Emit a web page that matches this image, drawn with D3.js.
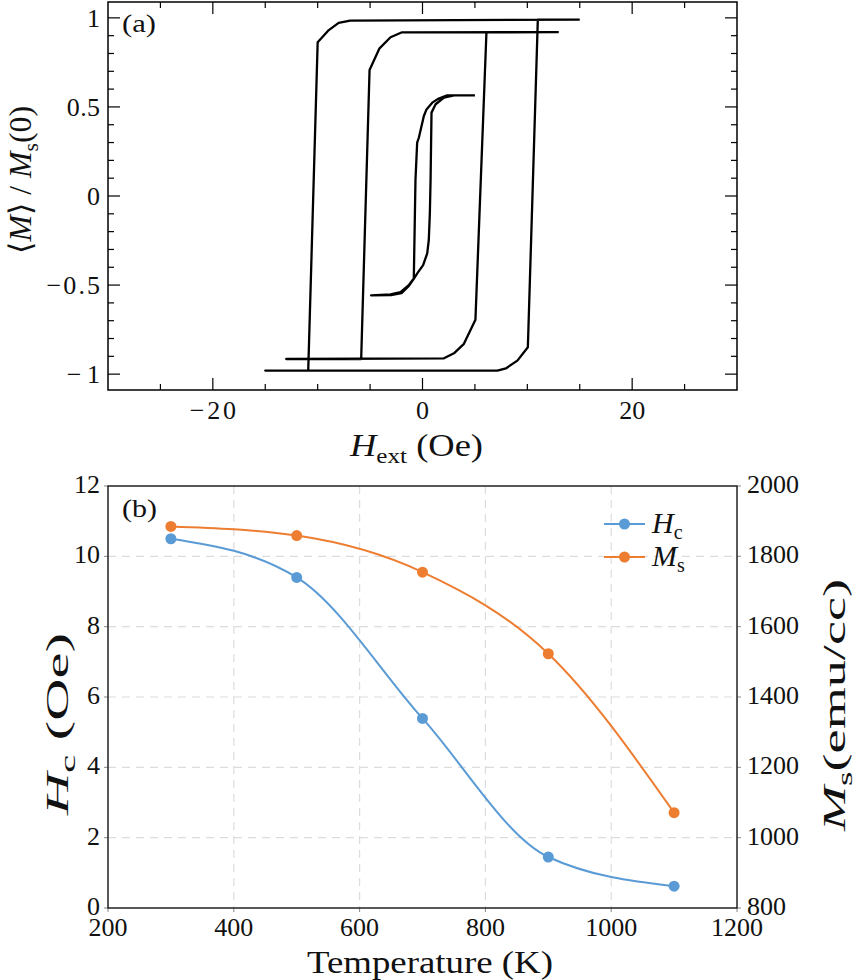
<!DOCTYPE html>
<html>
<head>
<meta charset="utf-8">
<script src="https://cdn.jsdelivr.net/npm/d3@7/dist/d3.min.js"></script>
<style>
  html, body { margin: 0; padding: 0; background: #fff; }
  svg text { font-family: "Liberation Serif", "DejaVu Serif", serif; fill: #111; }
</style>
</head>
<body>
<svg id="chart" width="859" height="980"></svg>
<script>
// ---------- Panel (a): hysteresis loops ----------
const outerH = [15, -6.9, -8.0, -9.0, -10.0, -10.9, -15, 7.15, 7.95, 9.05, 10.05, 11.0, 15];
const outerM = [0.99, 0.985, 0.972, 0.928, 0.863, -0.98, -0.98, -0.98, -0.968, -0.924, -0.849, 0.99, 0.99];
const innerH = [13, -1.95, -3.05, -4.1, -5.05, -5.85, -13, 2.05, 3.0, 3.95, 5.05, 6.1, 13];
const innerM = [0.92, 0.919, 0.891, 0.829, 0.707, -0.915, -0.915, -0.911, -0.883, -0.830, -0.695, 0.919, 0.92];
const smallH = [5.0, 2.35, 1.55, 0.93, 0.38, 0.13, -0.35, -0.51, -0.67, -0.83, -1.31, -2.1, -3.05, -4.9,
                -3.0, -2.0, -1.3, -0.83, -0.45, 0.06, 0.45, 0.6, 0.7, 0.77, 0.86, 1.25, 2.05, 3.0, 5.0];
const smallM = [0.565, 0.565, 0.547, 0.524, 0.486, 0.449, 0.327, 0.299, 0.09, -0.463, -0.501, -0.539, -0.552, -0.558,
                -0.556, -0.545, -0.505, -0.465, -0.43, -0.388, -0.322, -0.247, -0.1, 0.09, 0.468, 0.515, 0.552, 0.565, 0.565];
const hTicksMajor = [-20, 0, 20];
const mTicksMajor = [-1, -0.5, 0, 0.5, 1];
const mTickLabels = ["\u22121", "\u22120.5", "0", "0.5", "1"];
const hTickLabels = ["\u221220", "0", "20"];

// ---------- Panel (b): Hc and Ms vs temperature ----------
const temps = [300, 500, 700, 900, 1100];
const hcVals = [10.5, 9.4, 5.39, 1.45, 0.62];
const msVals = [1885, 1859, 1755, 1523, 1071];
const tTicks = [200, 400, 600, 800, 1000, 1200];
const hcTicks = [0, 2, 4, 6, 8, 10, 12];
const msTicks = [800, 1000, 1200, 1400, 1600, 1800, 2000];

const svg = d3.select("#chart");
const FS = 26;   // tick labels
const LFS = 32;  // axis labels
const SFS = 22;  // subscripts

function cmWidth(s, fs) {
  let w = 0;
  for (const ch of s) w += ch === "\u2212" ? 0.778 : ch === "." ? 0.278 : 0.5;
  return w * fs;
}
function tickText(g, x, y, s, anchor) {
  return g.append("text").attr("x", x).attr("y", y).attr("text-anchor", anchor)
    .attr("font-size", FS).attr("textLength", cmWidth(s, FS)).attr("lengthAdjust", "spacing").text(s);
}

// ===== Panel (a) =====
const L = 108, R = 737;
const xA = d3.scaleLinear().domain([-30, 30]).range([L, R]);
const yA = d3.scaleLinear().domain([-1.089, 1.089]).range([390, 2]);
const gA = svg.append("g");

const hMinor = d3.range(-25, 26, 5);
const mMinor = d3.range(-10, 11, 1).map(d => d / 10);
hMinor.forEach(v => {
  const major = hTicksMajor.includes(v);
  const len = major ? 12 : 6;
  gA.append("line").attr("x1", xA(v)).attr("x2", xA(v)).attr("y1", yA.range()[0]).attr("y2", yA.range()[0] - len)
    .attr("stroke", "#000").attr("stroke-width", 1.2);
  gA.append("line").attr("x1", xA(v)).attr("x2", xA(v)).attr("y1", yA.range()[1]).attr("y2", yA.range()[1] + len)
    .attr("stroke", "#000").attr("stroke-width", 1.2);
});
mMinor.forEach(v => {
  const major = mTicksMajor.some(m => Math.abs(m - v) < 1e-9);
  const len = major ? 12 : 6;
  gA.append("line").attr("x1", L).attr("x2", L + len).attr("y1", yA(v)).attr("y2", yA(v))
    .attr("stroke", "#000").attr("stroke-width", 1.2);
  gA.append("line").attr("x1", R).attr("x2", R - len).attr("y1", yA(v)).attr("y2", yA(v))
    .attr("stroke", "#000").attr("stroke-width", 1.2);
});

const lineA = d3.line().x(d => xA(d[0])).y(d => yA(d[1]));
[[outerH, outerM], [innerH, innerM], [smallH, smallM]].forEach(([hs, ms]) => {
  gA.append("path").datum(hs.map((h, i) => [h, ms[i]]))
    .attr("d", lineA).attr("fill", "none").attr("stroke", "#000")
    .attr("stroke-width", 2.3).attr("stroke-linejoin", "round").attr("stroke-linecap", "butt");
});

gA.append("rect").attr("x", L).attr("y", 2).attr("width", R - L).attr("height", 388)
  .attr("fill", "none").attr("stroke", "#000").attr("stroke-width", 1.5);

hTicksMajor.forEach((v, i) => tickText(gA, xA(v), 419, hTickLabels[i], "middle"));
mTicksMajor.forEach((v, i) => tickText(gA, 100, yA(v) + 9, mTickLabels[i], "end"));
gA.append("text").attr("x", 122).attr("y", 32).attr("font-size", FS)
  .attr("textLength", 34).attr("lengthAdjust", "spacingAndGlyphs").text("(a)");

const xlabA = gA.append("text").attr("x", 350).attr("y", 456).attr("font-size", LFS)
  .attr("textLength", 133).attr("lengthAdjust", "spacingAndGlyphs");
xlabA.append("tspan").attr("font-style", "italic").text("H");
xlabA.append("tspan").attr("font-size", SFS).attr("dy", 7).text("ext");
xlabA.append("tspan").attr("dy", -7).text(" (Oe)");

const ylabA = gA.append("text").attr("transform", "translate(31,254) rotate(-90)")
  .attr("font-size", 31).attr("textLength", 148).attr("lengthAdjust", "spacingAndGlyphs");
ylabA.append("tspan").text("\u27E8");
ylabA.append("tspan").attr("font-style", "italic").text("M");
ylabA.append("tspan").text("\u27E9 / ");
ylabA.append("tspan").attr("font-style", "italic").text("M");
ylabA.append("tspan").attr("font-size", 21).attr("dy", 7).text("s");
ylabA.append("tspan").attr("dy", -7).text("(0)");

// ===== Panel (b) =====
const T0 = 486, B0 = 908;
const xB = d3.scaleLinear().domain([200, 1200]).range([L, R]);
const yL = d3.scaleLinear().domain([0, 12]).range([B0, T0]);
const yR = d3.scaleLinear().domain([800, 2000]).range([B0, T0]);
const gB = svg.append("g");

tTicks.slice(1, -1).forEach(v => {
  gB.append("line").attr("x1", xB(v)).attr("x2", xB(v)).attr("y1", T0).attr("y2", B0)
    .attr("stroke", "#dcdcdc").attr("stroke-width", 1.2).attr("stroke-dasharray", "8,6");
});
hcTicks.slice(1, -1).forEach(v => {
  gB.append("line").attr("x1", L).attr("x2", R).attr("y1", yL(v)).attr("y2", yL(v))
    .attr("stroke", "#dcdcdc").attr("stroke-width", 1.2).attr("stroke-dasharray", "8,6");
});

tTicks.forEach(v => gB.append("line").attr("x1", xB(v)).attr("x2", xB(v)).attr("y1", B0).attr("y2", B0 + 4)
  .attr("stroke", "#888").attr("stroke-width", 1));
hcTicks.forEach(v => gB.append("line").attr("x1", L).attr("x2", L - 4).attr("y1", yL(v)).attr("y2", yL(v))
  .attr("stroke", "#888").attr("stroke-width", 1));
msTicks.forEach(v => gB.append("line").attr("x1", R).attr("x2", R + 4).attr("y1", yR(v)).attr("y2", yR(v))
  .attr("stroke", "#888").attr("stroke-width", 1));

const blue = "#5b9bd5", orange = "#ed7d31";
const lineHc = d3.line().x((d, i) => xB(temps[i])).y(d => yL(d)).curve(d3.curveMonotoneX);
const lineMs = d3.line().x((d, i) => xB(temps[i])).y(d => yR(d)).curve(d3.curveMonotoneX);
gB.append("path").datum(hcVals).attr("d", lineHc).attr("fill", "none").attr("stroke", blue).attr("stroke-width", 2);
gB.append("path").datum(msVals).attr("d", lineMs).attr("fill", "none").attr("stroke", orange).attr("stroke-width", 2);
gB.selectAll(".hc").data(hcVals).enter().append("circle")
  .attr("cx", (d, i) => xB(temps[i])).attr("cy", d => yL(d)).attr("r", 5.5).attr("fill", blue);
gB.selectAll(".ms").data(msVals).enter().append("circle")
  .attr("cx", (d, i) => xB(temps[i])).attr("cy", d => yR(d)).attr("r", 5.5).attr("fill", orange);

gB.append("rect").attr("x", L).attr("y", T0).attr("width", R - L).attr("height", B0 - T0)
  .attr("fill", "none").attr("stroke", "#222").attr("stroke-width", 1.5);

tTicks.forEach(v => tickText(gB, xB(v), 936, String(v), "middle"));
hcTicks.forEach(v => tickText(gB, 100, yL(v) + 7, String(v), "end"));
msTicks.forEach(v => tickText(gB, 747, yR(v) + 7, String(v), "start"));
gB.append("text").attr("x", 122).attr("y", 517).attr("font-size", FS)
  .attr("textLength", 35).attr("lengthAdjust", "spacingAndGlyphs").text("(b)");

gB.append("text").attr("x", 307).attr("y", 973).attr("font-size", LFS)
  .attr("textLength", 246).attr("lengthAdjust", "spacingAndGlyphs").text("Temperature (K)");

const ylabL = gB.append("text").attr("transform", "translate(68,815) rotate(-90)").attr("font-size", LFS)
  .attr("textLength", 182).attr("lengthAdjust", "spacingAndGlyphs");
ylabL.append("tspan").attr("font-style", "italic").text("H");
ylabL.append("tspan").attr("font-size", SFS).attr("dy", 7).text("c");
ylabL.append("tspan").attr("dy", -7).text(" (Oe)");
const ylabR = gB.append("text").attr("transform", "translate(845,831) rotate(-90)").attr("font-size", LFS)
  .attr("textLength", 252).attr("lengthAdjust", "spacingAndGlyphs");
ylabR.append("tspan").attr("font-style", "italic").text("M");
ylabR.append("tspan").attr("font-size", SFS).attr("dy", 7).text("s");
ylabR.append("tspan").attr("dy", -7).text("(emu/cc)");

const legend = [["H", "c", blue, 524], ["M", "s", orange, 557]];
legend.forEach(([a, b, c, y]) => {
  gB.append("line").attr("x1", 604).attr("x2", 645).attr("y1", y).attr("y2", y).attr("stroke", c).attr("stroke-width", 2);
  gB.append("circle").attr("cx", 624.5).attr("cy", y).attr("r", 5.5).attr("fill", c);
  const t = gB.append("text").attr("x", 652).attr("y", y + 9).attr("font-size", 30);
  t.append("tspan").attr("font-style", "italic").text(a);
  t.append("tspan").attr("font-size", 20).attr("dy", 6).text(b);
});
</script>
</body>
</html>
